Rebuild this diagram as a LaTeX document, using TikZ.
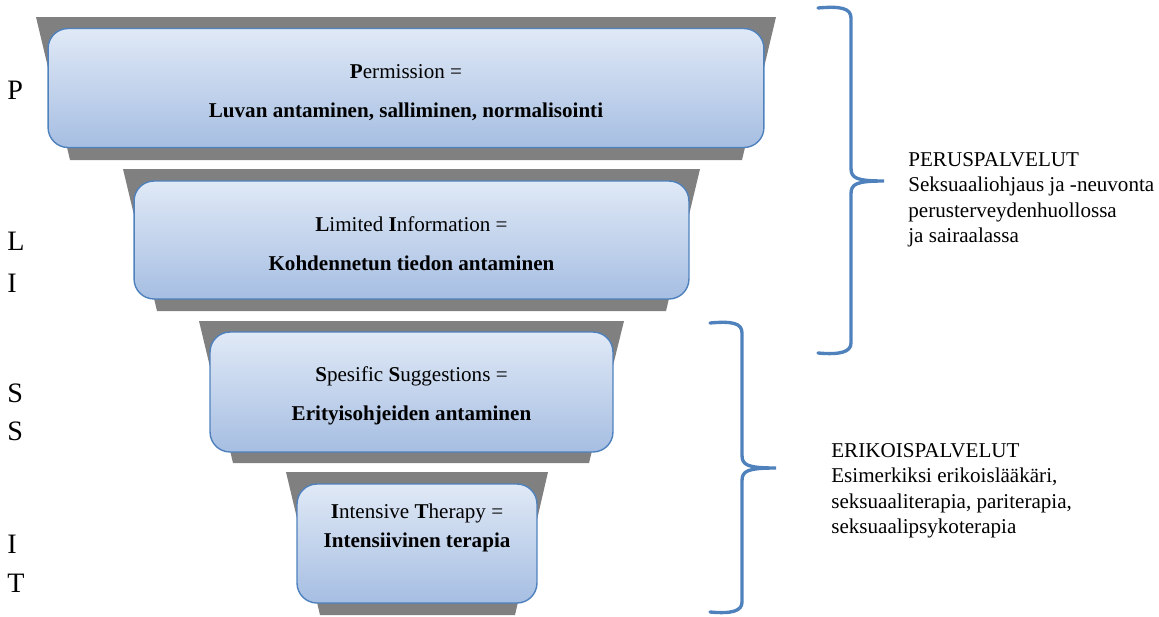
\documentclass[tikz,border=0pt]{standalone}
\usepackage{fontspec}
\setmainfont{Liberation Serif}
\definecolor{funnelgray}{RGB}{128,128,128}
\definecolor{boxtop}{RGB}{224,233,246}
\definecolor{boxbottom}{RGB}{166,190,226}
\definecolor{boxline}{RGB}{79,129,189}
\begin{document}
\begin{tikzpicture}[x=0.02cm,y=-0.02cm,
    funnel/.style={fill=funnelgray},
    stage/.style={draw=boxline,line width=0.8pt,rounded corners=0.4cm,top color=boxtop,bottom color=boxbottom,minimum height=2.38cm,inner sep=0pt},
    stagetext/.style={align=center,font=\fontsize{12}{14.5}\selectfont,inner sep=0pt},
    letter/.style={anchor=base west,font=\fontsize{16}{19}\selectfont,inner sep=0pt},
    brace/.style={draw=boxline,line width=1.9pt,line cap=round},
    service/.style={anchor=north west,align=left,font=\fontsize{12}{14.5}\selectfont,inner sep=0pt}]
  \useasboundingbox (0,0) rectangle (1159,616);
  % grey funnel pieces
  \fill[funnel] (36,17) -- (776,17) -- (742,160) -- (70,160) -- cycle;
  \fill[funnel] (123,169) -- (700,169) -- (666,311) -- (157,311) -- cycle;
  \fill[funnel] (199,321) -- (624,321) -- (589,463) -- (233,463) -- cycle;
  \fill[funnel] (286,472) -- (548,472) -- (515,615) -- (320,615) -- cycle;
  % stages
  \node[stage,minimum width=14.32cm] (perm) at (406,88) {};
  \node[stage,minimum width=11.1cm,minimum height=2.36cm] (limited) at (411.5,240) {};
  \node[stage,minimum width=8.06cm,minimum height=2.4cm] (specific) at (411.5,392) {};
  \node[stage,minimum width=4.8cm] (intensive) at (417,543.5) {};
  \node[stagetext] (permtext) at (406,93) {\textbf{P}ermission =\\[7.7pt]\textbf{Luvan antaminen, salliminen, normalisointi}};
  \node[stagetext] (limitedtext) at (411.5,244) {\textbf{L}imited \textbf{I}nformation =\\[7.7pt]\textbf{Kohdennetun tiedon antaminen}};
  \node[stagetext] (specifictext) at (411.5,396) {\textbf{S}pesific \textbf{S}uggestions =\\[7.7pt]\textbf{Erityisohjeiden antaminen}};
  \node[stagetext] (intensivetext) at (417,528) {\textbf{I}ntensive \textbf{T}herapy =\\[2pt]\textbf{Intensiivinen terapia}};
  % letters on the left
  \foreach \ch/\yy in {P/99,L/250,I/292,S/402,S/440,I/553,T/592}
    \node[letter] (letter\yy) at (7,\yy) {\ch};
  % braces
  \draw[brace] (818,8) .. controls (840,6) and (851,8) .. (851,18) -- (851,168)
    .. controls (851,178) and (856,181) .. (884,181)
    .. controls (856,181) and (851,184) .. (851,194) -- (851,343)
    .. controls (851,352) and (840,355) .. (818,353);
  \draw[brace] (710,323) .. controls (732,321) and (742,323) .. (742,333) -- (742,455)
    .. controls (742,465) and (747,468) .. (776,468)
    .. controls (747,468) and (742,471) .. (742,481) -- (742,602)
    .. controls (742,611) and (732,614) .. (710,612);
  \node[service] (basic) at (908,152) {PERUSPALVELUT\\Seksuaaliohjaus ja -neuvonta\\perusterveydenhuollossa\\ja sairaalassa};
  \node[service] (special) at (831,443) {ERIKOISPALVELUT\\Esimerkiksi erikoislääkäri,\\seksuaaliterapia, pariterapia,\\seksuaalipsykoterapia};
\end{tikzpicture}
\end{document}
